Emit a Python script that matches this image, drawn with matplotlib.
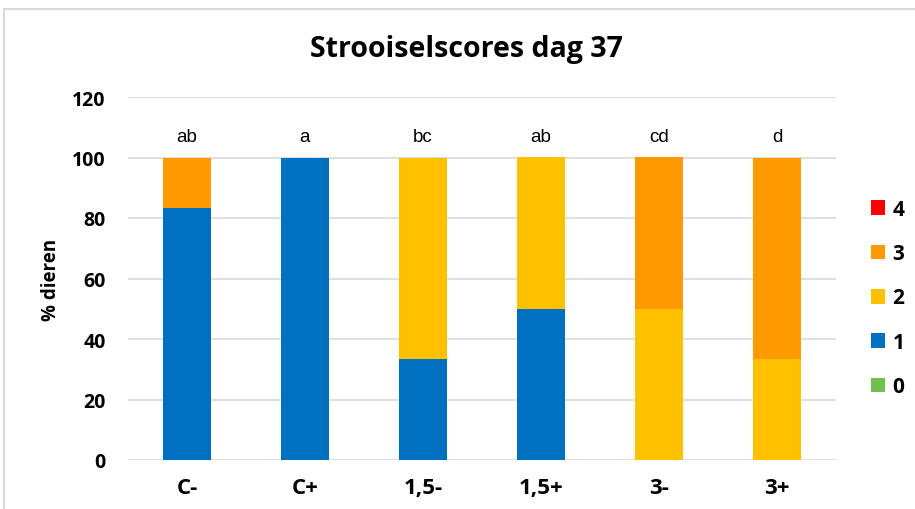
import matplotlib
matplotlib.use("Agg")
import matplotlib.pyplot as plt
from matplotlib.patches import Rectangle
import numpy as np

categories = ["C-", "C+", "1,5-", "1,5+", "3-", "3+"]
score0 = [0, 0, 0, 0, 0, 0]
score1 = [83.3, 100, 33.3, 50, 0, 0]
score2 = [0, 0, 66.7, 50, 50, 33.3]
score3 = [16.7, 0, 0, 0, 50, 66.7]
score4 = [0, 0, 0, 0, 0, 0]
letters = ["ab", "a", "bc", "ab", "cd", "d"]

series = [("0", score0, "#70c050"), ("1", score1, "#0070c0"),
          ("2", score2, "#ffc000"), ("3", score3, "#ff9900"),
          ("4", score4, "#ff0000")]

bold = {"family": "Open Sans", "weight": "bold"}

fig = plt.figure(figsize=(9.15, 5.10), dpi=100)
fig.patches.append(Rectangle((4/915, -0.1), 1.2, 1 - 10/510 + 0.1, transform=fig.transFigure,
                             fill=False, edgecolor="#d9d9d9", linewidth=1.5))
ax = fig.add_axes([128/915, 1 - 461/510, 708/915, 363/510])

x = np.arange(len(categories))
bottom = np.zeros(len(categories))
handles = []
for name, vals, col in series:
    b = ax.bar(x, vals, 0.41, bottom=bottom, color=col, label=name, zorder=3)
    handles.append(b)
    bottom += np.array(vals)

for xi, t in zip(x, letters):
    ax.text(xi, 107, t, ha="center", va="center", fontsize=13.5, family="Liberation Sans")

ax.set_xlim(-0.5, 5.5)
ax.set_ylim(0, 120)
ax.set_yticks(range(0, 121, 20))
ax.yaxis.grid(True, color="#d9d9d9", linewidth=1.2, zorder=0)
for s in ax.spines.values():
    s.set_visible(False)
ax.tick_params(length=0)
ax.set_xticks(x)
ax.set_xticklabels(categories, fontsize=16, **bold)
ax.tick_params(axis="x", pad=12)
ax.tick_params(axis="y", pad=16)
for lb in ax.get_yticklabels():
    lb.set_fontsize(14)
    lb.set_fontweight("bold")
    lb.set_family("Open Sans")
ax.set_ylabel("% dieren", fontsize=13.5, labelpad=8, **bold)

fig.text(466/915, 1 - 50/510, "Strooiselscores dag 37", ha="center", va="center",
         fontsize=20.5, **bold)

leg = fig.legend(handles[::-1], [s[0] for s in series][::-1], loc="center left",
                 bbox_to_anchor=(852/915, 1 - 299/510), frameon=False,
                 handlelength=0.7, handleheight=0.7, handletextpad=0.35,
                 labelspacing=1.12, prop={"family": "Open Sans", "weight": "bold", "size": 15})

fig.savefig("out.png", dpi=100)
